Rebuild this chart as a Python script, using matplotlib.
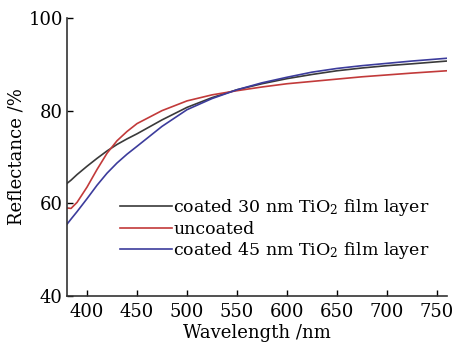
import matplotlib
matplotlib.use('Agg')
import matplotlib.pyplot as plt
import numpy as np

# wavelength grid (nm) and reflectance (%)
wl = [380, 384, 390, 400, 410, 420, 430, 440, 450, 475, 500, 525, 550, 575, 600,
      625, 650, 675, 700, 725, 760]
r30 = [64.3, 65.0, 66.2, 68.0, 69.7, 71.3, 72.7, 73.9, 75.0, 78.0, 80.7, 82.8, 84.5,
       85.8, 86.9, 87.8, 88.6, 89.2, 89.7, 90.1, 90.7]
r_unc = [59.0, 58.9, 60.2, 63.5, 67.3, 70.8, 73.5, 75.5, 77.2, 80.0, 82.1, 83.4, 84.3,
         85.1, 85.8, 86.3, 86.8, 87.3, 87.7, 88.1, 88.6]
r45 = [55.5, 56.6, 58.2, 61.0, 63.9, 66.5, 68.7, 70.6, 72.3, 76.6, 80.2, 82.6, 84.5,
       86.0, 87.2, 88.3, 89.1, 89.7, 90.2, 90.7, 91.3]

labels = ['coated 30 nm TiO$_2$ film layer', 'uncoated',
          'coated 45 nm TiO$_2$ film layer']
colors = ['#3a3a3a', '#c23a3a', '#3c3c9c']

plt.rcParams['font.family'] = ['DejaVu Serif']
plt.rcParams['mathtext.fontset'] = 'dejavuserif'

fig = plt.figure(figsize=(4.56, 3.45), dpi=100)
ax = fig.add_axes([0.147, 0.142, 0.833, 0.806])

for y, lab, c in zip([r30, r_unc, r45], labels, colors):
    ax.plot(wl, y, color=c, lw=1.2, label=lab)

ax.set_xlim(380, 760)
ax.set_ylim(40, 100)
ax.set_xticks([400, 450, 500, 550, 600, 650, 700, 750])
ax.set_yticks([40, 60, 80, 100])
ax.tick_params(direction='in', length=4, width=1, labelsize=13)
ax.tick_params(axis='x', pad=5)
ax.tick_params(axis='y', pad=3)
for s in ['top', 'right']:
    ax.spines[s].set_visible(False)
for s in ['left', 'bottom']:
    ax.spines[s].set_linewidth(1.2)
    ax.spines[s].set_color('#333333')

ax.set_xlabel('Wavelength /nm', fontsize=13, labelpad=2)
ax.set_ylabel('Reflectance /%', fontsize=13, labelpad=2)

ax.legend(loc='lower left', bbox_to_anchor=(0.12, 0.10), frameon=False,
          fontsize=12.5, handlelength=3.0, handletextpad=0.1,
          labelspacing=0.15, borderaxespad=0)

fig.savefig('out.png', dpi=100)
